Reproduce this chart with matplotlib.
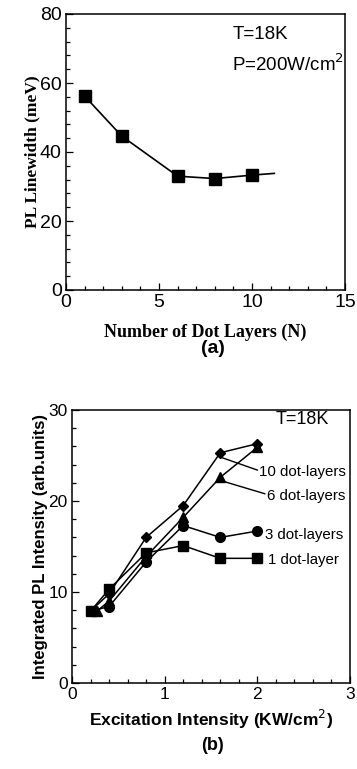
import matplotlib
matplotlib.use("Agg")
import matplotlib.pyplot as plt
from matplotlib.ticker import MultipleLocator

# panel (a): linewidth vs number of dot layers
layers_n = [1, 3, 6, 8, 10]
linewidth_mev = [56.2, 44.6, 33.0, 32.3, 33.3]
tail_n = [10, 11.2]
tail_mev = [33.3, 33.8]

# panel (b): integrated PL vs excitation
exc_1 = [0.2, 0.4, 0.8, 1.2, 1.6, 2.0]
pl_1 = [7.9, 10.3, 14.3, 15.1, 13.7, 13.7]
exc_3 = [0.2, 0.4, 0.8, 1.2, 1.6, 2.0]
pl_3 = [7.9, 8.4, 13.3, 17.3, 16.0, 16.7]
exc_6 = [0.27, 0.4, 0.8, 1.2, 1.6, 2.0]
pl_6 = [7.9, 9.0, 13.9, 18.2, 22.6, 25.9]
exc_10 = [0.2, 0.4, 0.8, 1.2, 1.6, 2.0]
pl_10 = [7.9, 9.8, 16.0, 19.5, 25.3, 26.3]

series_labels = ["10 dot-layers", "6 dot-layers", "3 dot-layers", "1 dot-layer"]
label_pos = [(2.02, 23.2), (2.1, 20.6), (2.08, 16.3), (2.11, 13.5)]
leader_start = [(1.58, 24.9), (1.62, 22.2), None, None]

SANS = "Liberation Sans"
SERIF = "Liberation Serif"

fig = plt.figure(figsize=(3.57, 7.69), dpi=100)


def style_axes(ax, tick_fs):
    ax.tick_params(which="both", direction="in", top=False, right=False,
                   width=0.9, labelsize=tick_fs, pad=3)
    ax.tick_params(which="major", length=5)
    ax.tick_params(which="minor", length=3)
    for t in ax.get_xticklabels() + ax.get_yticklabels():
        t.set_fontfamily(SANS)
    for s in ax.spines.values():
        s.set_linewidth(1.1)


# ---- (a)
ax1 = fig.add_axes([66 / 357, 1 - 290 / 769, 279 / 357, 276 / 769])
ax1.plot(layers_n, linewidth_mev, color="black", lw=1.2, marker="s",
         ms=8.5, mfc="black", mec="black")
ax1.plot(tail_n, tail_mev, color="black", lw=1.2)
ax1.set_xlim(0, 15)
ax1.set_ylim(0, 80)
ax1.xaxis.set_major_locator(MultipleLocator(5))
ax1.xaxis.set_minor_locator(MultipleLocator(1))
ax1.yaxis.set_major_locator(MultipleLocator(20))
ax1.yaxis.set_minor_locator(MultipleLocator(4))
style_axes(ax1, 14)
ax1.set_xlabel("Number of Dot Layers (N)", fontfamily=SERIF, fontweight="bold",
               fontsize=13, labelpad=9)
ax1.set_ylabel("PL Linewidth (meV)", fontfamily=SERIF, fontweight="bold",
               fontsize=12.5, labelpad=0)
ax1.text(8.95, 74.2, "T=18K", fontfamily=SANS, fontsize=13.5, va="center")
ax1.text(8.95, 65.5, "P=200W/cm$^2$", fontfamily=SANS, fontsize=13.5, va="center")
fig.text(213 / 357, 1 - 349 / 769, "(a)", fontfamily=SANS, fontweight="bold",
         fontsize=14, ha="center", va="center")

# ---- (b)
ax2 = fig.add_axes([72 / 357, 1 - 683 / 769, 278 / 357, 273 / 769])
ax2.plot(exc_1, pl_1, color="black", lw=1.1, marker="s", ms=7.5)
ax2.plot(exc_3, pl_3, color="black", lw=1.1, marker="o", ms=7)
ax2.plot(exc_6, pl_6, color="black", lw=1.1, marker="^", ms=7.5)
ax2.plot(exc_10, pl_10, color="black", lw=1.1, marker="D", ms=5.5)
ax2.set_xlim(0, 3)
ax2.set_ylim(0, 30)
ax2.xaxis.set_major_locator(MultipleLocator(1))
ax2.xaxis.set_minor_locator(MultipleLocator(0.2))
ax2.yaxis.set_major_locator(MultipleLocator(10))
ax2.yaxis.set_minor_locator(MultipleLocator(2))
style_axes(ax2, 12.5)
for lab, (tx, ty), st in zip(series_labels, label_pos, leader_start):
    ax2.text(tx, ty, lab, fontfamily=SANS, fontsize=10.8, va="center", ha="left")
    if st is not None:
        ax2.plot([st[0], tx - 0.02], [st[1], ty + 0.2], color="black", lw=1.0)
ax2.text(2.2, 29.0, "T=18K", fontfamily=SANS, fontsize=13, va="center")
ax2.set_xlabel("Excitation Intensity (KW/cm$^2$)", fontfamily=SANS,
               fontweight="bold", fontsize=12.5, labelpad=4)
ax2.set_ylabel("Integrated PL Intensity (arb.units)", fontfamily=SANS,
               fontweight="bold", fontsize=12, labelpad=0)
fig.text(213 / 357, 1 - 746 / 769, "(b)", fontfamily=SANS, fontweight="bold",
         fontsize=13, ha="center", va="center")

fig.savefig("out.png", dpi=100)
